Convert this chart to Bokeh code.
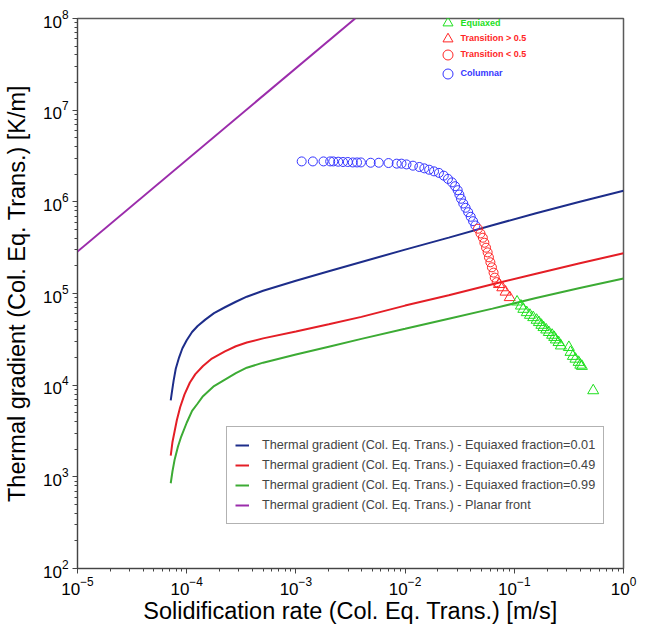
from bokeh.plotting import figure
from bokeh.models import Range1d, FixedTicker, Legend, LegendItem
from bokeh.embed import file_html
from bokeh.resources import INLINE

# ---------------- axes / ticks ----------------
x_major = [1e-5, 1e-4, 1e-3, 1e-2, 1e-1, 1e0]
y_major = [1e2, 1e3, 1e4, 1e5, 1e6, 1e7, 1e8]
x_minor = [m * d for d in x_major[:-1] for m in range(2, 10)]
y_minor = [m * d for d in y_major[:-1] for m in range(2, 10)]

# ---------------- curves (V [m/s], G [K/m]) ----------------
v_f001 = [7.14e-5, 7.33e-5, 7.59e-5, 7.94e-5, 8.51e-5, 9.12e-5, 1.0e-4, 1.12e-4,
          1.26e-4, 1.48e-4, 1.78e-4, 2.24e-4, 2.82e-4, 3.55e-4, 5.01e-4, 1.0e-3,
          2.0e-3, 3.98e-3, 1.0e-2, 2.51e-2, 6.31e-2, 0.158, 0.398, 1.0]
g_f001 = [6.81e3, 8.51e3, 1.12e4, 1.51e4, 2.0e4, 2.51e4, 3.09e4, 3.80e4,
          4.42e4, 5.19e4, 6.10e4, 7.08e4, 8.13e4, 9.23e4, 1.07e5, 1.38e5,
          1.75e5, 2.21e5, 3.01e5, 4.07e5, 5.56e5, 7.50e5, 1.0e6, 1.32e6]

v_f049 = [7.14e-5, 7.41e-5, 7.76e-5, 8.13e-5, 8.71e-5, 9.55e-5, 1.07e-4, 1.20e-4,
          1.41e-4, 1.70e-4, 2.24e-4, 2.82e-4, 3.55e-4, 5.01e-4, 1.0e-3, 2.0e-3,
          3.98e-3, 1.0e-2, 2.51e-2, 6.31e-2, 0.158, 0.398, 1.0]
g_f049 = [1.70e3, 2.40e3, 3.16e3, 4.17e3, 5.75e3, 7.94e3, 1.07e4, 1.32e4,
          1.62e4, 1.95e4, 2.34e4, 2.66e4, 2.92e4, 3.24e4, 3.85e4, 4.62e4,
          5.56e4, 7.38e4, 9.55e4, 1.26e5, 1.64e5, 2.14e5, 2.75e5]

v_f099 = [7.14e-5, 7.41e-5, 7.76e-5, 8.32e-5, 8.91e-5, 1.0e-4, 1.12e-4, 1.26e-4,
          1.41e-4, 1.78e-4, 2.24e-4, 2.82e-4, 3.55e-4, 5.01e-4, 1.0e-3, 2.0e-3,
          3.98e-3, 1.0e-2, 2.51e-2, 6.31e-2, 0.158, 0.398, 1.0]
g_f099 = [851, 1.15e3, 1.55e3, 2.14e3, 2.75e3, 3.89e3, 5.25e3, 6.31e3,
          7.59e3, 9.77e3, 1.15e4, 1.35e4, 1.55e4, 1.76e4, 2.16e4, 2.63e4,
          3.20e4, 4.12e4, 5.31e4, 6.84e4, 8.91e4, 1.15e5, 1.46e5]

v_planar = [1.0e-5, 3.49e-3]
g_planar = [2.87e5, 1.0e8]

# ---------------- simulation points ----------------
v_columnar = [1.13e-3, 1.43e-3, 1.79e-3, 2.06e-3, 2.20e-3, 2.44e-3, 2.70e-3, 2.99e-3,
              3.32e-3, 3.63e-3, 3.94e-3, 4.84e-3, 5.74e-3, 7.05e-3, 8.38e-3, 9.27e-3,
              1.03e-2, 1.18e-2, 1.35e-2, 1.50e-2, 1.66e-2, 1.84e-2, 2.04e-2, 2.26e-2,
              2.47e-2, 2.69e-2, 2.87e-2, 3.03e-2, 3.14e-2, 3.25e-2, 3.41e-2, 3.58e-2,
              3.78e-2, 3.99e-2, 4.19e-2, 4.40e-2]
g_columnar = [2.76e6, 2.76e6, 2.76e6, 2.76e6, 2.76e6, 2.74e6, 2.72e6, 2.72e6,
              2.69e6, 2.69e6, 2.69e6, 2.67e6, 2.67e6, 2.65e6, 2.61e6, 2.61e6,
              2.56e6, 2.48e6, 2.40e6, 2.32e6, 2.24e6, 2.15e6, 2.07e6, 1.93e6,
              1.78e6, 1.63e6, 1.48e6, 1.34e6, 1.20e6, 1.08e6, 9.59e5, 8.61e5,
              7.71e5, 6.87e5, 6.15e5, 5.52e5]

v_trans_lo = [4.65e-2, 4.90e-2, 5.15e-2, 5.32e-2, 5.51e-2, 5.70e-2, 5.86e-2, 6.04e-2,
              6.24e-2, 6.46e-2, 6.62e-2, 6.90e-2]
g_trans_lo = [5.09e5, 4.52e5, 4.06e5, 3.58e5, 3.16e5, 2.81e5, 2.48e5, 2.19e5,
              1.93e5, 1.69e5, 1.49e5, 1.33e5]

v_trans_hi = [7.24e-2, 7.76e-2, 8.32e-2, 9.08e-2]
g_trans_hi = [1.26e5, 1.16e5, 1.04e5, 9.06e4]

v_equiaxed = [0.106, 0.115, 0.121, 0.130, 0.139, 0.149, 0.160, 0.168, 0.177, 0.185,
              0.196, 0.207, 0.222, 0.232, 0.240, 0.254, 0.267, 0.316, 0.327, 0.344,
              0.363, 0.388, 0.402, 0.416, 0.528]
g_equiaxed = [8.11e4, 7.33e4, 6.75e4, 6.21e4, 5.81e4, 5.48e4, 5.13e4, 4.84e4, 4.52e4, 4.27e4,
              4.02e4, 3.77e4, 3.52e4, 3.33e4, 3.13e4, 2.93e4, 2.69e4, 2.59e4, 2.29e4, 2.07e4,
              1.93e4, 1.78e4, 1.66e4, 1.61e4, 8.73e3]

line_labels = [
    "Thermal gradient (Col. Eq. Trans.) - Equiaxed fraction=0.01",
    "Thermal gradient (Col. Eq. Trans.) - Equiaxed fraction=0.49",
    "Thermal gradient (Col. Eq. Trans.) - Equiaxed fraction=0.99",
    "Thermal gradient (Col. Eq. Trans.) - Planar front",
]
point_labels = ["Equiaxed", "Transition > 0.5", "Transition < 0.5", "Columnar"]

FONT = "Liberation Sans"

p = figure(width=637, height=626, x_axis_type="log", y_axis_type="log",
           x_range=Range1d(1e-5, 1.0), y_range=Range1d(1e2, 1e8),
           output_backend="svg", toolbar_location=None,
           min_border_left=76, min_border_right=14, min_border_top=18, min_border_bottom=56)

p.grid.visible = False
p.outline_line_color = "#5a5a5a"
p.outline_line_width = 1.5
p.background_fill_color = "white"
p.border_fill_color = "white"

p.xaxis.ticker = FixedTicker(ticks=x_major, minor_ticks=x_minor)
p.yaxis.ticker = FixedTicker(ticks=y_major, minor_ticks=y_minor)
p.xaxis.axis_label = "Solidification rate (Col. Eq. Trans.) [m/s]"
p.yaxis.axis_label = "Thermal gradient (Col. Eq. Trans.) [K/m]"
for ax in (p.xaxis[0], p.yaxis[0]):
    ax.axis_label_text_font = FONT
    ax.axis_label_text_font_style = "normal"
    ax.axis_label_text_font_size = "23.5px"
    ax.axis_label_text_color = "black"
    ax.major_label_text_font = FONT
    ax.major_label_text_font_size = "17px"
    ax.major_label_text_color = "black"
    ax.axis_line_color = "#444444"
    ax.major_tick_line_color = "#444444"
    ax.minor_tick_line_color = "#444444"
    ax.major_tick_out = 5
    ax.major_tick_in = 0
    ax.minor_tick_out = 3
    ax.minor_tick_in = 0
p.xaxis.major_label_standoff = 3
p.xaxis.axis_label_standoff = 0
p.yaxis.major_label_standoff = 4
p.yaxis.axis_label_standoff = 10

r1 = p.line(v_f001, g_f001, line_color="#1d2d8a", line_width=2)
r2 = p.line(v_f049, g_f049, line_color="#e41e26", line_width=2)
r3 = p.line(v_f099, g_f099, line_color="#3cab34", line_width=2)
r4 = p.line(v_planar, g_planar, line_color="#9b2cab", line_width=2)

s_col = p.scatter(v_columnar, g_columnar, marker="circle", size=9,
                  fill_color=None, line_color="#3535ff", line_width=1)
s_lo = p.scatter(v_trans_lo, g_trans_lo, marker="circle", size=9,
                 fill_color=None, line_color="#ff2626", line_width=1)
s_hi = p.scatter(v_trans_hi, g_trans_hi, marker="triangle", size=11,
                 fill_color=None, line_color="#ff2626", line_width=1)
s_eq = p.scatter(v_equiaxed, g_equiaxed, marker="triangle", size=11,
                 fill_color=None, line_color="#1ee01e", line_width=1)

leg = Legend(items=[LegendItem(label=lab, renderers=[r]) for lab, r in
                    zip(line_labels, [r1, r2, r3, r4])],
             location=(149, 44), margin=0, padding=8, spacing=0,
             glyph_width=14, glyph_height=20, label_height=20, label_standoff=13,
             label_text_font=FONT, label_text_font_size="12.7px",
             border_line_color="#666666", border_line_width=1.5,
             background_fill_color="white", background_fill_alpha=1.0)
p.add_layout(leg)

pt_colors = ["#1ee01e", "#ff2626", "#ff2626", "#3535ff"]
pt_rends = [s_eq, s_hi, s_lo, s_col]
pt_bottoms = [533.0, 517.5, 501.5, 482.5]
for lab, col, rend, yb in zip(point_labels, pt_colors, pt_rends, pt_bottoms):
    p.add_layout(Legend(items=[LegendItem(label=lab, renderers=[rend])],
                        location=(357.5, yb), margin=0, padding=0, spacing=0,
                        glyph_width=25, glyph_height=25, label_height=25, label_standoff=1,
                        label_text_font=FONT, label_text_font_size="9px",
                        label_text_font_style="bold", label_text_color=col,
                        border_line_color=None, background_fill_alpha=0.0))

open("out.html", "w").write(file_html(p, INLINE))
